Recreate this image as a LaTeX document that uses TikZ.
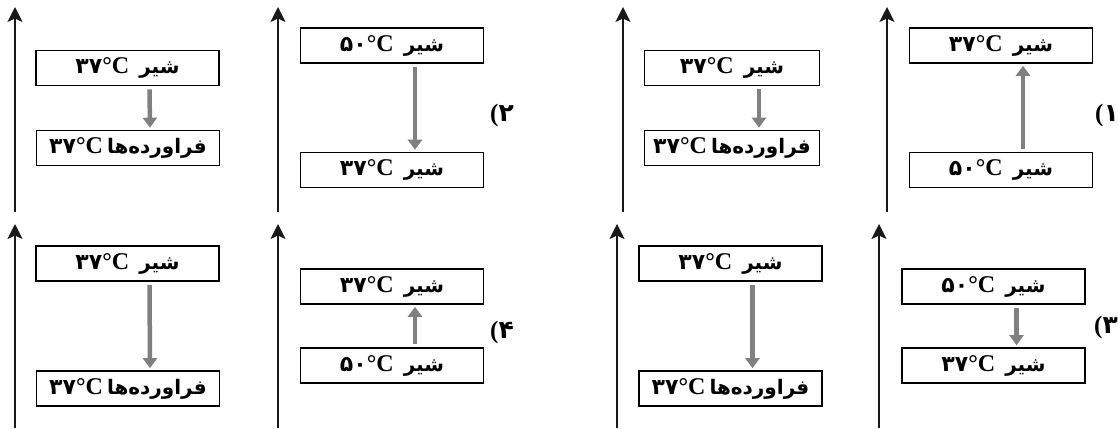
\documentclass[tikz,border=0pt]{standalone}
\usepackage{fontspec}
\setmainfont{Liberation Serif}
\newfontfamily\persianfont[Script=Arabic]{DejaVu Sans}
\TeXXeTstate=1
\usepackage{tikz}
\usetikzlibrary{arrows.meta, positioning}

% temperature, number in Persian digits then bold serif degree C
\newcommand{\degC}[1]{\beginL{\persianfont\bfseries\fontsize{22}{22}\selectfont #1}{\bfseries\fontsize{24}{24}\selectfont °C}\endL}
\newcommand{\milk}[1]{\beginR{\persianfont\bfseries شیر}\hspace{10pt}\degC{#1}\endR}
\newcommand{\products}[1]{\beginR{\persianfont\bfseries فراورده‌ها}\hspace{4pt}\degC{#1}\endR}
\newcommand{\option}[1]{{\bfseries (}{\persianfont\bfseries #1}}

\begin{document}
\begin{tikzpicture}[
  x=1pt, y=-1pt,
  font=\fontsize{20}{20}\selectfont,
  box/.style={rectangle, draw, line width=1.6pt, minimum width=183pt, minimum height=35pt, inner sep=0pt},
  axis/.style={draw=black!90, line width=1.8pt, -{Stealth[length=15pt,width=15pt,inset=3.5pt]}},
  flow/.style={draw=gray, line width=4.5pt, -{Triangle[length=10pt,width=14pt]}, shorten <=3pt, shorten >=2pt},
  choice/.style={font=\fontsize{25}{25}\selectfont, inner sep=0pt}
]
  \useasboundingbox (0,0) rectangle (1118,428);

  % axes, top row
  \coordinate (ta1) at (15,212);  \coordinate (tb1) at (15,7);
  \coordinate (ta2) at (278,212); \coordinate (tb2) at (278,7);
  \coordinate (ta3) at (623,212); \coordinate (tb3) at (623,7);
  \coordinate (ta4) at (887,212); \coordinate (tb4) at (887,7);
  % axes, bottom row
  \coordinate (ba1) at (15,428);  \coordinate (bb1) at (15,224);
  \coordinate (ba2) at (278,428); \coordinate (bb2) at (278,224);
  \coordinate (ba3) at (617,428); \coordinate (bb3) at (617,224);
  \coordinate (ba4) at (879,428); \coordinate (bb4) at (879,224);
  \foreach \i in {1,...,4} {
    \draw [axis] (ta\i) -- (tb\i);
    \draw [axis] (ba\i) -- (bb\i);
  }

  % option 2 (top left)
  \node [box] (tl1a) at (127.5,68) {\milk{۳۷}};
  \node [box] (tl1b) at (128,148) {\products{۳۷}};
  \node [box] (tl2a) at (392,45.5) {\milk{۵۰}};
  \node [box] (tl2b) at (392,170) {\milk{۳۷}};
  \node [choice] (c2) at (502,115) {\option{۲}};

  % option 1 (top right)
  \node [box, minimum width=175pt] (tr1a) at (732,68) {\milk{۳۷}};
  \node [box, minimum width=175pt] (tr1b) at (732,148) {\products{۳۷}};
  \node [box] (tr2a) at (1001,45.5) {\milk{۳۷}};
  \node [box] (tr2b) at (1001,170) {\milk{۵۰}};
  \node [choice] (c1) at (1107,115) {\option{۱}};

  % option 4 (bottom left)
  \node [box] (bl1a) at (127.5,263.5) {\milk{۳۷}};
  \node [box] (bl1b) at (128,388.5) {\products{۳۷}};
  \node [box] (bl2a) at (392,286.5) {\milk{۳۷}};
  \node [box] (bl2b) at (392,365.5) {\milk{۵۰}};
  \node [choice] (c4) at (502,332) {\option{۴}};

  % option 3 (bottom right)
  \node [box] (br1a) at (730.5,263.5) {\milk{۳۷}};
  \node [box] (br1b) at (730.5,388.5) {\products{۳۷}};
  \node [box] (br2a) at (993.5,286.5) {\milk{۵۰}};
  \node [box] (br2b) at (993.5,365.5) {\milk{۳۷}};
  \node [choice] (c3) at (1106,327) {\option{۳}};

  % gray arrows
  \draw [flow] ([xshift=22pt]tl1a.south) -- ([xshift=22pt]tl1b.north);
  \draw [flow] ([xshift=23pt]tl2a.south) -- ([xshift=23pt]tl2b.north);
  \draw [flow] ([xshift=27pt]tr1a.south) -- ([xshift=27pt]tr1b.north);
  \draw [flow] ([xshift=22pt]tr2b.north) -- ([xshift=22pt]tr2a.south);
  \draw [flow] ([xshift=22pt]bl1a.south) -- ([xshift=22pt]bl1b.north);
  \draw [flow] ([xshift=23pt]bl2b.north) -- ([xshift=23pt]bl2a.south);
  \draw [flow] ([xshift=22pt]br1a.south) -- ([xshift=22pt]br1b.north);
  \draw [flow] ([xshift=23pt]br2a.south) -- ([xshift=23pt]br2b.north);
\end{tikzpicture}
\end{document}
